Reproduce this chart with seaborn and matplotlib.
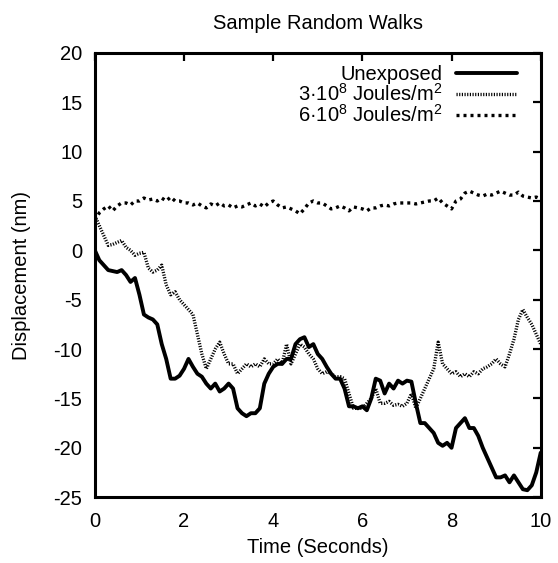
"""Sample random walks: displacement vs time for three exposure levels."""

import matplotlib

matplotlib.use("Agg")
import matplotlib.pyplot as plt
import numpy as np
import pandas as pd
import seaborn as sns

# time axis, 0.1 s steps
time_s = np.round(np.arange(0, 10.01, 0.1), 1)

unexposed = [
    0.0, -1.0, -1.5, -2.0, -2.1, -2.2, -2.0, -2.5, -3.2, -2.8,
    -4.5, -6.5, -6.8, -7.0, -7.5, -9.5, -11.0, -13.0, -13.0, -12.7,
    -12.0, -11.0, -11.8, -12.5, -12.8, -13.5, -14.0, -13.5, -14.3, -14.0,
    -13.5, -14.0, -16.0, -16.5, -16.8, -16.5, -16.5, -16.0, -13.5, -12.5,
    -11.8, -11.5, -11.5, -11.0, -11.0, -9.5, -9.0, -8.8, -9.8, -9.5,
    -10.5, -11.0, -11.8, -12.5, -13.0, -13.0, -14.0, -15.8, -15.8, -16.0,
    -15.8, -16.2, -15.0, -13.0, -13.2, -14.5, -13.5, -14.0, -13.2, -13.5,
    -13.2, -13.3, -15.5, -17.5, -17.5, -18.0, -18.5, -19.5, -19.8, -19.5,
    -20.0, -18.0, -17.5, -17.0, -18.0, -18.0, -18.8, -20.0, -21.0, -22.0,
    -23.0, -23.0, -22.8, -23.5, -22.8, -23.5, -24.2, -24.3, -23.8, -22.5,
    -20.5,
]

dose_3e8 = [
    3.5, 2.5, 1.5, 0.5, 0.6, 0.8, 1.0, 0.3, 0.0, -0.5,
    -0.3, -0.2, -1.8, -2.2, -2.0, -1.5, -3.5, -4.5, -4.2, -5.0,
    -5.5, -6.0, -6.5, -8.5, -10.5, -12.0, -11.0, -10.0, -9.3, -10.5,
    -11.5, -11.5, -12.5, -12.0, -11.5, -11.8, -11.5, -11.8, -11.0, -11.5,
    -11.5, -11.0, -11.5, -9.5, -11.5, -10.5, -9.5, -9.8, -10.5, -11.0,
    -12.0, -12.5, -12.3, -12.5, -12.8, -12.8, -13.0, -14.5, -16.0, -16.0,
    -16.0, -15.5, -15.0, -14.0, -15.5, -15.5, -15.3, -15.7, -15.6, -15.8,
    -15.5, -14.5, -16.0, -15.0, -14.0, -13.0, -12.0, -9.3, -11.5, -12.0,
    -12.5, -12.3, -12.8, -12.5, -12.8, -12.3, -12.5, -12.0, -11.8, -11.5,
    -11.0, -11.5, -11.8, -10.5, -9.0, -7.0, -6.0, -6.8, -7.5, -8.5,
    -9.5,
]

dose_6e8 = [
    3.0, 3.8, 4.2, 4.5, 4.0, 4.5, 4.8, 4.8, 4.6, 5.0,
    5.0, 5.3, 5.1, 5.2, 5.0, 5.3, 5.0, 5.4, 5.0, 5.0,
    4.8, 4.8, 4.6, 4.8, 4.5, 4.3, 4.7, 4.5, 4.8, 4.5,
    4.6, 4.3, 4.5, 4.4, 4.6, 4.8, 4.5, 4.7, 4.4, 4.8,
    5.0, 4.6, 4.3, 4.4, 4.2, 4.0, 3.7, 4.2, 4.8, 5.0,
    4.8, 4.8, 4.5, 4.2, 4.3, 4.5, 4.3, 4.0, 4.4, 4.3,
    4.2, 4.0, 4.3, 4.3, 4.5, 4.6, 4.5, 4.7, 4.8, 4.8,
    4.8, 4.8, 4.7, 4.8, 4.9, 5.0, 5.0, 5.3, 4.8, 4.5,
    4.2, 5.0, 5.2, 5.8, 6.0, 5.8, 5.6, 5.5, 5.7, 5.6,
    5.8, 6.0, 5.8, 5.6, 5.6, 5.9, 5.5, 5.4, 5.3, 5.4,
    5.2,
]

labels = ["Unexposed", "3·10$^8$ Joules/m$^2$", "6·10$^8$ Joules/m$^2$"]
x_ticks = [0, 2, 4, 6, 8, 10]
y_ticks = [-25, -20, -15, -10, -5, 0, 5, 10, 15, 20]

sns.set_theme(style="white")
plt.rcParams["font.family"] = ["Liberation Sans", "DejaVu Sans"]
plt.rcParams["mathtext.default"] = "regular"
plt.rcParams["axes.unicode_minus"] = False
for key in ("text.color", "axes.labelcolor", "xtick.color", "ytick.color"):
    plt.rcParams[key] = "black"

FS = 14.5

fig = plt.figure(figsize=(5.58, 5.63), dpi=100)
ax = fig.add_axes([0.170, 0.117, 0.799, 0.789])

# line styles: solid thick, fine hatch, coarse dots
styles = [
    dict(linewidth=2.8, linestyle="-"),
    dict(linewidth=2.4, linestyle=(0, (0.35, 0.45))),
    dict(linewidth=2.4, linestyle=(0, (0.9, 1.2))),
]
for values, label, st in zip([unexposed, dose_3e8, dose_6e8], labels, styles):
    df = pd.DataFrame({"t": time_s, "d": values})
    sns.lineplot(data=df, x="t", y="d", ax=ax, color="black", label=label,
                 estimator=None, sort=False, **st)

ax.set_xlim(0, 10)
ax.set_ylim(-25, 20)
ax.set_xticks(x_ticks)
ax.set_yticks(y_ticks)
ax.tick_params(direction="in", length=6, width=1.6, top=True, right=True,
               labelsize=FS, colors="black")
ax.tick_params(axis="x", pad=11)
ax.tick_params(axis="y", pad=9)
for sp in ax.spines.values():
    sp.set_linewidth(2.2)
    sp.set_color("black")

ax.set_xlabel("Time (Seconds)", fontsize=FS, labelpad=5)
ax.set_ylabel("Displacement (nm)", fontsize=FS, labelpad=16)
ax.set_title("Sample Random Walks", fontsize=FS, pad=17)

ax.legend(loc="upper right", bbox_to_anchor=(1.0, 1.027), frameon=False,
          markerfirst=False, fontsize=FS, handlelength=3.0, handletextpad=0.7,
          labelspacing=-0.05, borderaxespad=0.9, borderpad=0.3)

fig.savefig("out.png", dpi=100)
plt.close(fig)
